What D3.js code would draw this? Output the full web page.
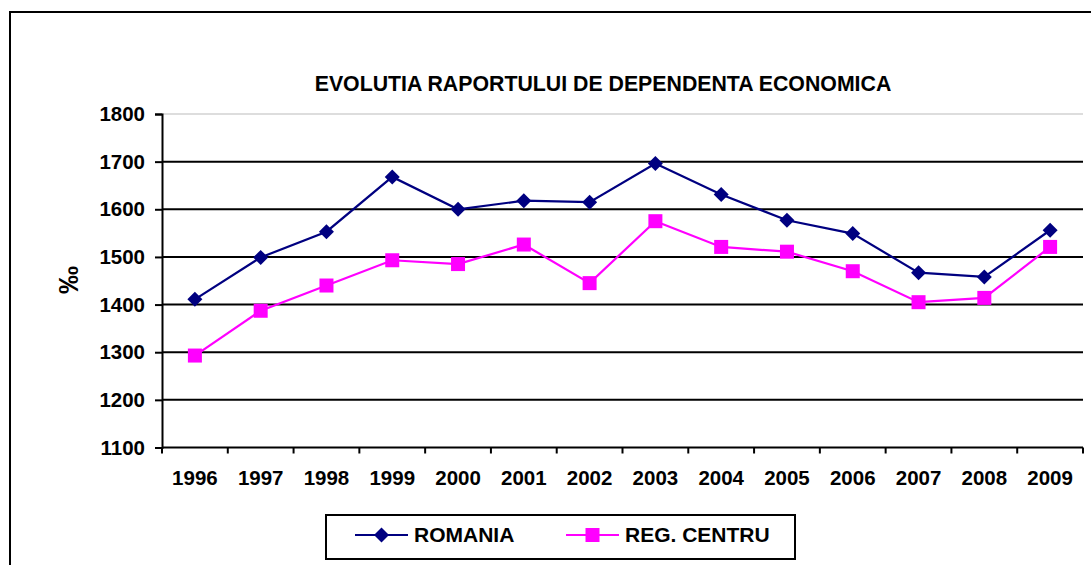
<!DOCTYPE html>
<html>
<head>
<meta charset="utf-8">
<script src="https://cdn.jsdelivr.net/npm/d3@7"></script>
<style>
  html, body { margin: 0; padding: 0; background: #fff; }
  svg { display: block; font-family: "Liberation Sans", Arial, sans-serif; }
</style>
</head>
<body>
<svg id="chart" width="1091" height="565"></svg>
<script>
// Economic dependency ratio, per mille
const years = ["1996","1997","1998","1999","2000","2001","2002","2003","2004","2005","2006","2007","2008","2009"];
const romania = [1411,1499,1553,1668,1600,1618,1615,1696,1631,1577,1549,1467,1458,1556];
const centru  = [1293,1387,1440,1493,1485,1526,1445,1575,1521,1511,1470,1405,1414,1521];
const yTicks = [1100,1200,1300,1400,1500,1600,1700,1800];
const seriesNames = ["ROMANIA","REG. CENTRU"];

const FONT = "'Liberation Sans', Arial, sans-serif";
const svg = d3.select("#chart");
const plot = { left: 162, right: 1083, top: 114, bottom: 447.5 };

// outer frame
svg.append("rect")
  .attr("x", 10).attr("y", 12)
  .attr("width", 1200).attr("height", 700)
  .attr("fill", "none").attr("stroke", "#000").attr("stroke-width", 2);

const x = d3.scaleBand().domain(years).range([plot.left, plot.right]);
const y = d3.scaleLinear().domain([1100, 1800]).range([plot.bottom, plot.top]);

// title
svg.append("text")
  .attr("x", 603).attr("y", 91)
  .attr("text-anchor", "middle")
  .style("font-family", FONT)
  .style("font-weight", "bold").style("font-size", "21.3px")
  .text("EVOLUTIA RAPORTULUI DE DEPENDENTA ECONOMICA");

// plot area top border (grey)
svg.append("line")
  .attr("x1", plot.left).attr("x2", plot.right)
  .attr("y1", plot.top).attr("y2", plot.top)
  .attr("stroke", "#bbb").attr("stroke-width", 1);

// gridlines
svg.append("g").selectAll("line")
  .data(yTicks.filter(t => t > 1100 && t < 1800))
  .join("line")
  .attr("x1", plot.left).attr("x2", plot.right)
  .attr("y1", d => y(d)).attr("y2", d => y(d))
  .attr("stroke", "#000").attr("stroke-width", 2);

// y axis
const yAxis = svg.append("g")
  .attr("transform", `translate(${plot.left},0)`)
  .call(d3.axisLeft(y).tickValues(yTicks).tickSize(7).tickPadding(10).tickFormat(d3.format("d")));
yAxis.select(".domain").attr("stroke", "#000").attr("stroke-width", 2);
yAxis.selectAll(".tick line").attr("stroke", "#000").attr("stroke-width", 2);
yAxis.selectAll(".tick text")
  .style("font-family", FONT)
  .style("font-size", "20.5px").style("font-weight", "bold").attr("fill", "#000");

// x axis
const xAxis = svg.append("g")
  .attr("transform", `translate(0,${plot.bottom})`)
  .call(d3.axisBottom(x).tickSize(0).tickPadding(23));
xAxis.select(".domain").remove();
xAxis.append("line")
  .attr("x1", plot.left).attr("x2", plot.right)
  .attr("stroke", "#000").attr("stroke-width", 2);
xAxis.selectAll(".tick text")
  .style("font-family", FONT)
  .style("font-size", "20.5px").style("font-weight", "bold").attr("fill", "#000");
// category boundary ticks
const boundaries = years.map(d => x(d)).concat([plot.right]);
xAxis.selectAll("line.bt").data(boundaries).join("line")
  .attr("class", "bt")
  .attr("x1", d => d).attr("x2", d => d)
  .attr("y1", 0).attr("y2", 6)
  .attr("stroke", "#000").attr("stroke-width", 2);

// y axis title
svg.append("text")
  .attr("transform", "translate(78,280) rotate(-90)")
  .attr("text-anchor", "middle")
  .style("font-family", FONT)
  .style("font-weight", "bold").style("font-size", "28px")
  .text("‰");

const cx = d => x(d) + x.bandwidth() / 2;
const line = d3.line().x(d => cx(d.year)).y(d => y(d.value));

const series = [
  { name: seriesNames[0], values: romania, color: "#000080", shape: "diamond" },
  { name: seriesNames[1], values: centru, color: "#FF00FF", shape: "square" }
];

function drawMarker(g, shape, color) {
  if (shape === "diamond") {
    g.append("path").attr("d", "M0,-7.5L7.5,0L0,7.5L-7.5,0Z").attr("fill", color);
  } else {
    g.append("rect").attr("x", -7).attr("y", -7).attr("width", 14).attr("height", 14).attr("fill", color);
  }
}

series.forEach(s => {
  const pts = years.map((yr, i) => ({ year: yr, value: s.values[i] }));
  svg.append("path").datum(pts)
    .attr("d", line).attr("fill", "none")
    .attr("stroke", s.color).attr("stroke-width", 2.2);
  pts.forEach(p => {
    const g = svg.append("g").attr("transform", `translate(${cx(p.year)},${y(p.value)})`);
    drawMarker(g, s.shape, s.color);
  });
});

// legend
const legend = svg.append("g");
legend.append("rect")
  .attr("x", 326).attr("y", 515).attr("width", 469).attr("height", 44)
  .attr("fill", "#fff").attr("stroke", "#000").attr("stroke-width", 2);
const legendPos = [{ x0: 355, tx: 414 }, { x0: 566, tx: 625 }];
series.forEach((s, i) => {
  const lp = legendPos[i];
  legend.append("line")
    .attr("x1", lp.x0).attr("x2", lp.x0 + 53)
    .attr("y1", 535).attr("y2", 535)
    .attr("stroke", s.color).attr("stroke-width", 2);
  const g = legend.append("g").attr("transform", `translate(${lp.x0 + 26.5},535)`);
  drawMarker(g, s.shape, s.color);
  legend.append("text")
    .attr("x", lp.tx).attr("y", 542)
    .style("font-family", FONT)
    .style("font-weight", "bold").style("font-size", "21px")
    .text(s.name);
});
</script>
</body>
</html>
